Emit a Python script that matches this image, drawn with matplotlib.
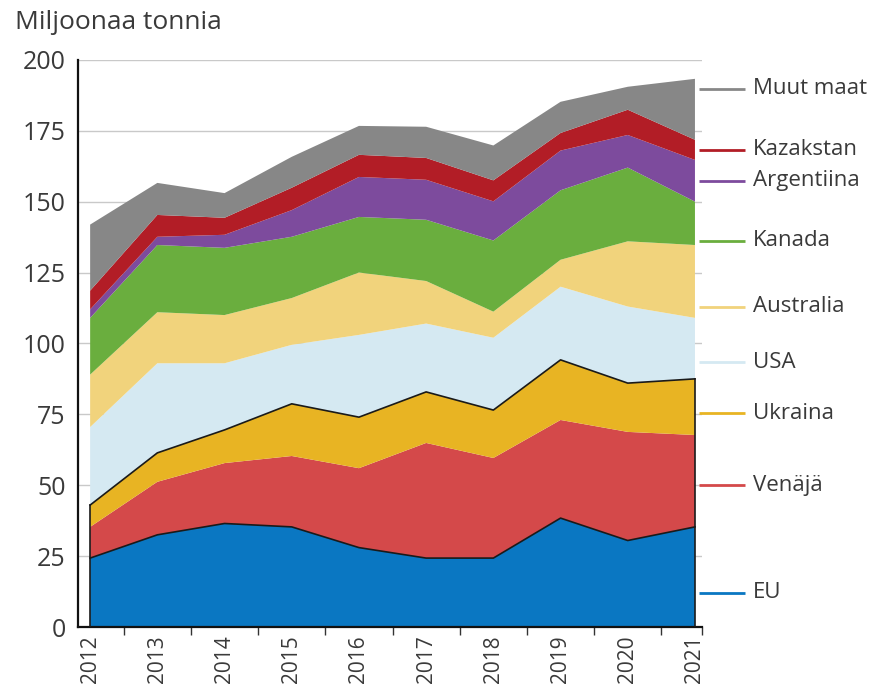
import numpy as np
import matplotlib
matplotlib.use('Agg')
import matplotlib.pyplot as plt

plt.rcParams['font.family'] = ['Open Sans', 'DejaVu Sans']

# Vuodet ja kerrosten paksuudet (milj. t) luettu kuvasta
years = [2012, 2013, 2014, 2015, 2016, 2017, 2018, 2019, 2020, 2021]

eu = [24.3, 32.5, 36.5, 35.3, 28.0, 24.3, 24.3, 38.4, 30.5, 35.3]
venaja = [11.0, 18.7, 21.3, 25.0, 28.0, 40.6, 35.3, 34.6, 38.3, 32.4]
ukraina = [7.7, 10.2, 11.7, 18.4, 18.0, 18.0, 16.9, 21.2, 17.2, 19.8]
usa = [27.5, 31.6, 23.5, 20.8, 29.0, 24.1, 25.5, 25.8, 27.0, 21.5]
australia = [18.5, 18.0, 17.0, 16.5, 22.0, 15.0, 9.2, 9.5, 23.0, 25.7]
kanada = [20.0, 23.7, 23.7, 21.6, 19.6, 21.6, 25.1, 24.5, 26.0, 15.3]
argentiina = [3.0, 2.9, 4.6, 9.4, 14.1, 14.1, 13.8, 14.0, 11.5, 14.7]
kazakstan = [6.6, 7.7, 6.0, 7.9, 7.8, 7.7, 7.4, 6.2, 8.9, 7.1]
muut = [23.3, 11.3, 8.7, 10.9, 10.2, 11.0, 12.3, 11.0, 8.1, 21.5]

labels = ['EU', 'Venäjä', 'Ukraina', 'USA', 'Australia', 'Kanada',
          'Argentiina', 'Kazakstan', 'Muut maat']
colors = ['#0a77c2', '#d4494a', '#e8b423', '#d5e9f2', '#f1d37c',
          '#6aae3e', '#7d4b9d', '#b21d26', '#878787']
# legendin viivojen korkeus y-akselin yksiköissä
label_y = [12.0, 50.0, 75.3, 93.3, 113.0, 136.2, 157.4, 168.3, 189.8]

series = [eu, venaja, ukraina, usa, australia, kanada, argentiina,
          kazakstan, muut]

fig = plt.figure(figsize=(8.71, 6.90), dpi=100)
ax = fig.add_axes([0.0896, 0.0913, 0.716, 0.822])

x = np.array(years, dtype=float)
stack = np.vstack(series)
ax.stackplot(x, stack, colors=colors, lw=0, zorder=2)

cum = np.cumsum(stack, axis=0)
# musta ääriviiva EU:n ja EU+Venäjä+Ukraina -kerroksen ympärillä
ax.plot(x, cum[0], color='#1a1a1a', lw=1.2, zorder=3)
ax.plot(x, cum[2], color='#1a1a1a', lw=1.2, zorder=3)
ax.plot([x[0], x[0]], [0, cum[2][0]], color='#1a1a1a', lw=1.2, zorder=3)
ax.plot([x[-1], x[-1]], [0, cum[2][-1]], color='#1a1a1a', lw=1.2, zorder=3)

ax.set_xlim(2011.82, 2021.1)
ax.set_ylim(0, 200)
ax.set_yticks(np.arange(0, 201, 25))
ax.yaxis.grid(True, color='#c9c9c9', lw=1.0, zorder=0)
ax.set_axisbelow(True)

ax.set_xticks([y + 0.5 for y in years[:-1]] + [2021.1])
ax.set_xticklabels([])
ax.set_xticks(years, minor=True)
ax.set_xticklabels([str(y) for y in years], minor=True, rotation=90,
                   fontsize=15, color='#3a3a3a')
ax.tick_params(axis='x', which='major', length=6, width=1, color='#333333',
               direction='out')
ax.tick_params(axis='x', which='minor', length=0, pad=6)
ax.tick_params(axis='y', length=0, labelsize=18, labelcolor='#3a3a3a', pad=9)

for s in ['top', 'right']:
    ax.spines[s].set_visible(False)
ax.spines['left'].set_color('#111111')
ax.spines['left'].set_linewidth(1.6)
ax.spines['bottom'].set_color('#111111')
ax.spines['bottom'].set_linewidth(1.6)

# selitteet oikealla
for lab, col, ly in zip(labels, colors, label_y):
    ax.plot([2021.06, 2021.74], [ly, ly], color=col, lw=2, clip_on=False,
            solid_capstyle='butt')
    ax.text(2021.86, ly, lab, fontsize=16, color='#3a3a3a', va='center',
            ha='left', clip_on=False)

fig.text(0.017, 0.967, 'Miljoonaa tonnia', fontsize=19, color='#3a3a3a',
         ha='left', va='center')

fig.savefig('out.png', dpi=100)
